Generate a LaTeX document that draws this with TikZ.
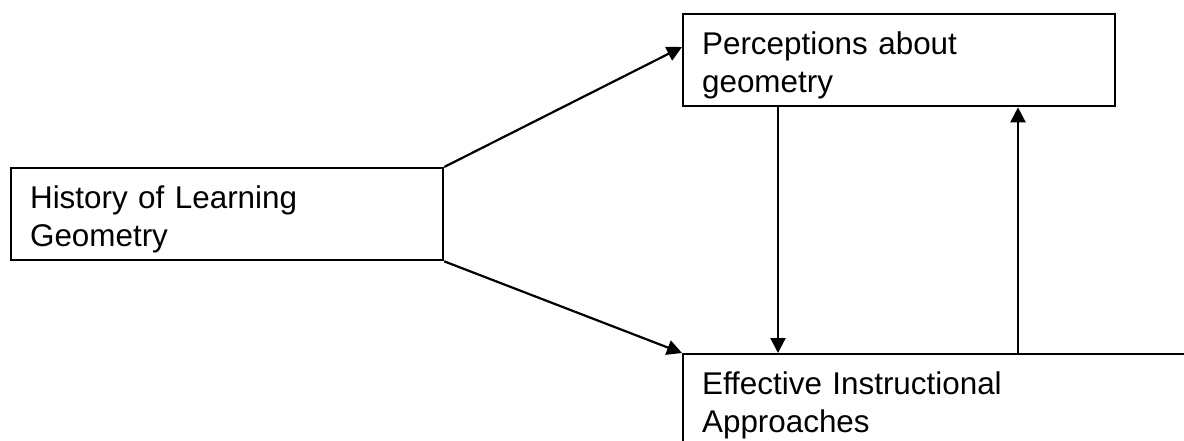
\documentclass[tikz,border=0pt]{standalone}
\usepackage{fontspec}
\setmainfont{Liberation Sans}
\usetikzlibrary{arrows.meta}
\begin{document}
\begin{tikzpicture}[x=0.5pt,y=-0.5pt,
  box/.style={draw,line width=1.1pt,anchor=north west,align=left,inner xsep=9.5pt,inner ysep=3.5pt,
    font=\fontsize{15.7}{19}\selectfont,execute at begin node={\rule{0pt}{16.8pt}}},
  link/.style={line width=1.1pt,-{Triangle[length=7.5pt,width=7.5pt]}}]
\useasboundingbox (0,0) rectangle (1184,440);
\node[box,text width=197pt] (hist) at (10,167) {History of Learning\\Geometry};
\node[box,text width=197pt] (perc) at (682,13) {Perceptions about\\geometry};
\node[box,text width=261pt] (appr) at (682,353) {Effective Instructional\\Approaches};
\draw[link] (hist.north east) -- ([yshift=-17pt]perc.north west);
\draw[link] (hist.south east) -- (appr.north west);
\draw[link] ([xshift=48pt]perc.south west) -- ([xshift=48pt]appr.north west);
\draw[link] ([xshift=168pt]appr.north west) -- ([xshift=168pt]perc.south west);
\end{tikzpicture}
\end{document}
